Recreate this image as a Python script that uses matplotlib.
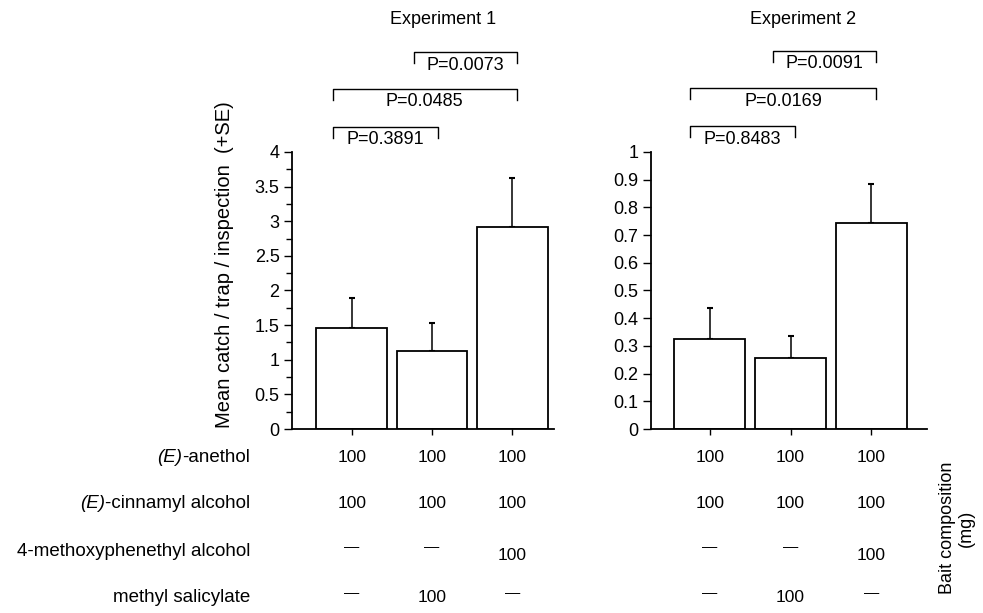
import matplotlib.pyplot as plt
from matplotlib.transforms import blended_transform_factory
import numpy as np

plt.rcParams['font.family'] = ['Liberation Sans', 'DejaVu Sans']

# data
exp1_means = [1.46, 1.13, 2.92]
exp1_se = [0.43, 0.395, 0.71]
exp2_means = [0.325, 0.258, 0.745]
exp2_se = [0.113, 0.076, 0.14]

exp1_p = ["P=0.3891", "P=0.0485", "P=0.0073"]
exp2_p = ["P=0.8483", "P=0.0169", "P=0.0091"]

row_labels = ["(E)-anethol", "(E)-cinnamyl alcohol",
              "4-methoxyphenethyl alcohol", "methyl salicylate"]
row_values = [["100", "100", "100"],
              ["100", "100", "100"],
              ["\u2014", "\u2014", "100"],
              ["\u2014", "100", "\u2014"]]

W, H = 983, 613
fig = plt.figure(figsize=(W / 100, H / 100), dpi=100)

def fy(py):
    return 1 - py / H

def fx(px):
    return px / W

ax1 = fig.add_axes([fx(292), fy(429), fx(554 - 292), fy(152) - fy(429)])
ax2 = fig.add_axes([fx(651), fy(429), fx(927 - 651), fy(152) - fy(429)])

x = np.arange(3)
row_y = [458, 503, 551, 597]


def draw_panel(ax, means, se, ymax, step, minor, xlim, pvals, brackets, title, title_x):
    ax.bar(x, means, width=0.88, color='white', edgecolor='black', linewidth=1.3,
           zorder=2)
    ax.errorbar(x, means, yerr=[np.zeros(3), se], fmt='none', ecolor='black',
                elinewidth=1.1, capsize=2, capthick=1.5, zorder=1)
    ax.set_xlim(*xlim)
    ax.set_ylim(0, ymax)
    ticks = np.arange(0, ymax + step / 2, step)
    ax.set_yticks(ticks)
    ax.set_yticklabels([f"{v:g}" for v in ticks])
    if minor:
        ax.set_yticks(np.arange(0, ymax + 0.001, minor), minor=True)
        ax.tick_params(axis='y', which='minor', length=4, width=1)
    ax.set_xticks(x)
    ax.set_xticklabels([])
    for s in ['top', 'right']:
        ax.spines[s].set_visible(False)
    ax.spines['left'].set_linewidth(1.3)
    ax.spines['bottom'].set_linewidth(1.3)
    ax.tick_params(axis='y', which='major', length=6, width=1, labelsize=13, pad=3)
    ax.tick_params(axis='x', length=4, width=1, direction='out')

    tr = blended_transform_factory(ax.transData, fig.transFigure)
    for (x0, x1, ytop), label in zip(brackets, pvals):
        ax.plot([x0, x0, x1, x1], [fy(ytop + 11), fy(ytop), fy(ytop), fy(ytop + 11)],
                color='black', lw=1, transform=tr, clip_on=False)
        ax.text((x0 + x1) / 2, fy(ytop + 13), label, transform=tr, ha='center',
                va='center', fontsize=13)

    fig.text(fx(title_x), fy(20), title, ha='center', va='center', fontsize=13)

    # bait composition table
    for r, vals in enumerate(row_values):
        for c, v in enumerate(vals):
            yy = row_y[r]
            if v == "100" and r == 2:
                yy += 5
            if v != "100":
                yy -= 4
                ax.text(x[c], fy(yy), v, transform=tr, ha='center', va='center',
                        fontsize=11)
            else:
                ax.text(x[c], fy(yy), v, transform=tr, ha='center', va='center',
                        fontsize=12.5)


draw_panel(ax1, exp1_means, exp1_se, 4, 0.5, 0.25, (-0.745, 2.52), exp1_p,
           [(-0.24, 1.08, 127), (-0.24, 2.06, 89), (0.77, 2.06, 52)],
           "Experiment 1", 443)
draw_panel(ax2, exp2_means, exp2_se, 1, 0.1, None, (-0.73, 2.69), exp2_p,
           [(-0.25, 1.05, 126), (-0.25, 2.06, 88), (0.78, 2.06, 51)],
           "Experiment 2", 803)

fig.text(fx(225), fy(265), "Mean catch / trap / inspection  (+SE)", rotation=90,
         ha='center', va='center', fontsize=14.5)

for yy, lab in zip(row_y, row_labels):
    if lab.startswith("(E)"):
        t = fig.text(fx(250), fy(yy), lab[3:], ha='right', va='center',
                     fontsize=13.5)
        fig.canvas.draw()
        bb = t.get_window_extent()
        fig.text(bb.x0 / W, fy(yy), "(E)", ha='right', va='center', fontsize=13.5,
                 style='italic')
    else:
        fig.text(fx(250), fy(yy), lab, ha='right', va='center', fontsize=13.5)

fig.text(fx(957), fy(528), "Bait composition\n(mg)", rotation=90, ha='center',
         va='center', fontsize=13, linespacing=1.1, multialignment='center')

fig.savefig("out.png", dpi=100, facecolor='white')
